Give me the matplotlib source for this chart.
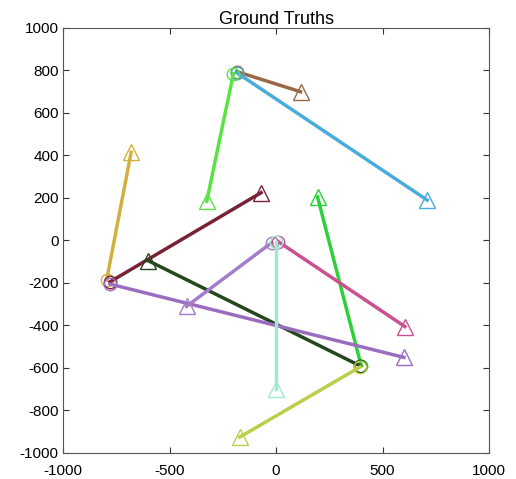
import matplotlib
matplotlib.use("Agg")
import matplotlib.pyplot as plt

plt.rcParams['font.family'] = ['Liberation Sans', 'DejaVu Sans']
plt.rcParams['axes.unicode_minus'] = False

# start (circle) and end (triangle) of each ground-truth track
start_x = [-185, -185, -200, -795, -780, 400, 395, -780, -20, 10, 0, 395]
start_y = [795, 790, 785, -185, -195, -590, -590, -205, -10, -5, -5, -595]
end_x = [115, 710, -325, -680, -70, 195, -600, 600, -420, 605, 0, -170]
end_y = [700, 190, 185, 415, 225, 205, -95, -550, -310, -405, -700, -925]
colors = ['#9a6846', '#4aacdb', '#5ae244', '#d2b040', '#7a2235', '#2ecf3c',
          '#26461f', '#9b6cc0', '#a57cca', '#c9518f', '#a0e8cf', '#bdcd4a']

xticks = [-1000, -500, 0, 500, 1000]
yticks = [-1000, -800, -600, -400, -200, 0, 200, 400, 600, 800, 1000]

fig = plt.figure(figsize=(5.16, 4.79), dpi=100)
ax = fig.add_axes([0.1221, 0.0543, 0.8256, 0.8873])

for i in range(len(start_x)):
    c = colors[i]
    ax.plot([start_x[i], end_x[i]], [start_y[i], end_y[i]], '-', color=c, linewidth=2.5)
    ax.plot(start_x[i], start_y[i], 'o', markersize=9, markerfacecolor='none',
            markeredgecolor=c, markeredgewidth=1)
    ax.plot(end_x[i], end_y[i], '^', markersize=12, markerfacecolor='none',
            markeredgecolor=c, markeredgewidth=1)

ax.set_xlim(-1000, 1000)
ax.set_ylim(-1000, 1000)
ax.set_xticks(xticks)
ax.set_yticks(yticks)
ax.tick_params(direction='in', top=True, right=True, labelsize=11, length=4,
               color='#333333', pad=3)
ax.tick_params(axis='x', pad=8)
for s in ax.spines.values():
    s.set_color('#555555')
ax.set_title('Ground Truths', fontsize=13, pad=3)

fig.savefig('out.png', dpi=100)
